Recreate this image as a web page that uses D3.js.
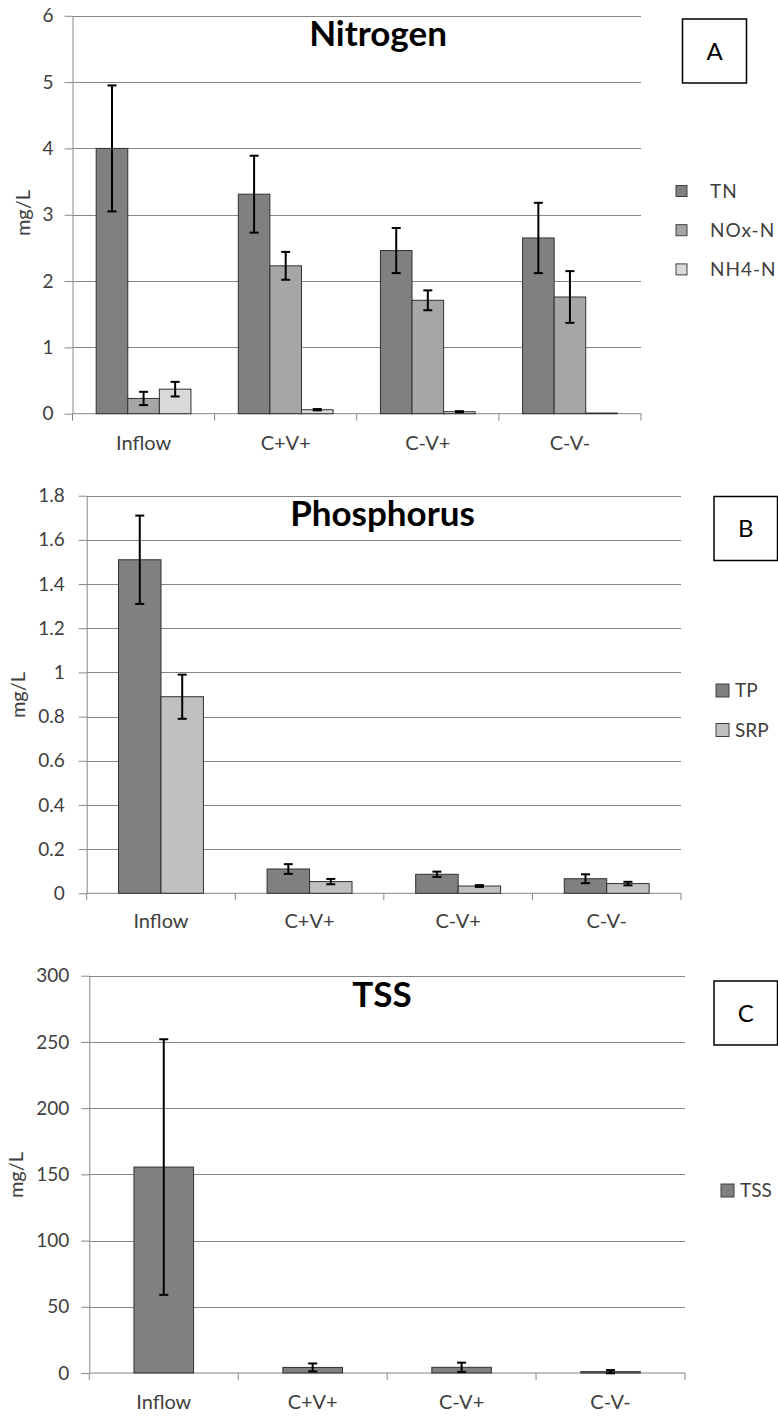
<!DOCTYPE html>
<html>
<head>
<meta charset="utf-8">
<script src="https://cdn.jsdelivr.net/npm/d3@7"></script>
<style>
  body { margin: 0; background: #fff; }
  svg text { font-family: Lato, 'Open Sans', sans-serif; }
</style>
</head>
<body>
<div id="graph"></div>
<script>
'use strict';

let categories = ['Inflow', 'C+V+', 'C-V+', 'C-V-'];

// panel A - nitrogen
let nitrogenSeries = ['TN', 'NOx-N', 'NH4-N'];
let tnMean = [4.0, 3.31, 2.46, 2.65];
let tnErr = [0.95, 0.58, 0.34, 0.53];
let noxMean = [0.23, 2.23, 1.71, 1.76];
let noxErr = [0.10, 0.21, 0.15, 0.39];
let nh4Mean = [0.37, 0.06, 0.03, 0.01];
let nh4Err = [0.11, 0.01, 0.008, 0.0];
let nitrogenTicks = [0, 1, 2, 3, 4, 5, 6];

// panel B - phosphorus
let phosphorusSeries = ['TP', 'SRP'];
let tpMean = [1.51, 0.11, 0.086, 0.066];
let tpErr = [0.20, 0.022, 0.012, 0.02];
let srpMean = [0.89, 0.053, 0.033, 0.044];
let srpErr = [0.10, 0.012, 0.004, 0.008];
let phosphorusTicks = [0, 0.2, 0.4, 0.6, 0.8, 1, 1.2, 1.4, 1.6, 1.8];

// panel C - TSS
let tssSeries = ['TSS'];
let tssMean = [155.5, 4.2, 4.3, 1.0];
let tssErr = [96.5, 3.0, 3.5, 1.2];
let tssTicks = [0, 50, 100, 150, 200, 250, 300];

let GRID = '#868686';
let TEXT = '#404040';
let FILLS = {
    'TN': '#808080', 'NOx-N': '#a6a6a6', 'NH4-N': '#d9d9d9',
    'TP': '#808080', 'SRP': '#c0c0c0',
    'TSS': '#808080',
};

let svg = d3.select('#graph')
    .append('svg')
    .attr('width', 778)
    .attr('height', 1416);

function drawPanel (p) {
    let g = svg.append('g');
    let yScale = d3.scaleLinear()
        .domain([0, d3.max(p.ticks)])
        .range([p.bottom, p.top]);
    let xScale = d3.scaleBand()
        .domain(categories)
        .range([p.left, p.right])
        .padding(0);

    // excel style gap width 150%
    let n = p.series.length;
    let barW = xScale.bandwidth() / (n + 1.5);
    let sScale = d3.scaleBand()
        .domain(p.series)
        .range([0, n * barW]);

    // gridlines
    g.selectAll('.grid')
        .data(p.ticks.filter(t => t > 0))
        .enter()
        .append('line')
        .attr('x1', p.left).attr('x2', p.right)
        .attr('y1', d => Math.round(yScale(d)) + 0.5)
        .attr('y2', d => Math.round(yScale(d)) + 0.5)
        .attr('stroke', GRID)
        .attr('stroke-width', 1);

    // y axis
    let yAxis = d3.axisLeft(yScale)
        .tickValues(p.ticks)
        .tickFormat(d => String(d))
        .tickSizeInner(8)
        .tickSizeOuter(0)
        .tickPadding(p.pad);
    let ya = g.append('g')
        .attr('transform', 'translate(' + p.left + ',0)')
        .call(yAxis);
    ya.selectAll('path, line').attr('stroke', GRID);
    ya.selectAll('text')
        .attr('fill', TEXT)
        .style('font-size', '19px')
        .style('font-family', "Lato, sans-serif");

    // x axis line + tick marks at band boundaries
    let bounds = categories.map(c => xScale(c)).concat([p.right]);
    g.append('line')
        .attr('x1', p.left).attr('x2', p.right)
        .attr('y1', p.bottom).attr('y2', p.bottom)
        .attr('stroke', GRID);
    g.selectAll('.xtick')
        .data(bounds)
        .enter()
        .append('line')
        .attr('x1', d => d).attr('x2', d => d)
        .attr('y1', p.bottom).attr('y2', p.bottom + 7)
        .attr('stroke', GRID);
    g.selectAll('.xlabel')
        .data(categories)
        .enter()
        .append('text')
        .attr('x', d => xScale(d) + xScale.bandwidth() / 2)
        .attr('y', p.bottom + p.xlab)
        .attr('text-anchor', 'middle')
        .attr('fill', TEXT)
        .style('font-size', '20px')
        .text(d => d);

    // bars
    let rows = [];
    p.series.forEach((s, si) => {
        categories.forEach((c, ci) => {
            rows.push({ cat: c, series: s, mean: p.means[si][ci], err: p.errs[si][ci] });
        });
    });

    let barX = d => xScale(d.cat) + 0.75 * barW + sScale(d.series);

    g.selectAll('.bar')
        .data(rows)
        .enter()
        .append('rect')
        .attr('x', barX)
        .attr('y', d => yScale(d.mean))
        .attr('width', barW)
        .attr('height', d => p.bottom - yScale(d.mean))
        .attr('fill', d => FILLS[d.series])
        .attr('stroke', '#303030')
        .attr('stroke-width', 1);

    // error bars
    let eb = g.selectAll('.err')
        .data(rows.filter(d => d.err > 0))
        .enter()
        .append('g')
        .attr('stroke', '#000')
        .attr('stroke-width', 2);
    let cx = d => barX(d) + barW / 2;
    eb.append('line')
        .attr('x1', cx).attr('x2', cx)
        .attr('y1', d => yScale(d.mean + d.err))
        .attr('y2', d => yScale(d.mean - d.err));
    eb.append('line')
        .attr('x1', d => cx(d) - 4.5).attr('x2', d => cx(d) + 4.5)
        .attr('y1', d => yScale(d.mean + d.err))
        .attr('y2', d => yScale(d.mean + d.err));
    eb.append('line')
        .attr('x1', d => cx(d) - 4.5).attr('x2', d => cx(d) + 4.5)
        .attr('y1', d => yScale(d.mean - d.err))
        .attr('y2', d => yScale(d.mean - d.err));

    // title
    g.append('text')
        .attr('x', p.titleX)
        .attr('y', p.titleY)
        .attr('text-anchor', 'middle')
        .attr('fill', '#000')
        .style('font-size', '35px')
        .style('font-weight', 'bold')
        .text(p.title);

    // y label
    g.append('text')
        .attr('transform', 'translate(' + p.yLabelX + ',' + p.yLabelY + ') rotate(-90)')
        .attr('text-anchor', 'middle')
        .attr('dy', '0.35em')
        .attr('fill', TEXT)
        .style('font-size', '20px')
        .text('mg/L');

    // letter box
    g.append('rect')
        .attr('x', p.box[0]).attr('y', p.box[1])
        .attr('width', p.box[2]).attr('height', p.box[3])
        .attr('fill', '#fff')
        .attr('stroke', '#000')
        .attr('stroke-width', 1.5);
    g.append('text')
        .attr('x', p.box[0] + p.box[2] / 2)
        .attr('y', p.box[1] + p.box[3] / 2)
        .attr('dy', '0.36em')
        .attr('text-anchor', 'middle')
        .attr('fill', '#000')
        .style('font-size', '24px')
        .text(p.letter);

    // legend
    let lg = g.selectAll('.legend')
        .data(p.series)
        .enter()
        .append('g')
        .attr('transform', (d, i) => 'translate(' + p.legX + ',' + (p.legY + i * p.legStep) + ')');
    lg.append('rect')
        .attr('x', 0).attr('y', -p.legSq / 2)
        .attr('width', p.legSq).attr('height', p.legSq)
        .attr('fill', d => FILLS[d])
        .attr('stroke', '#404040')
        .attr('stroke-width', 1);
    lg.append('text')
        .attr('x', p.legText)
        .attr('dy', '0.36em')
        .attr('fill', TEXT)
        .style('font-size', '19px')
        .style('letter-spacing', p.legSpacing)
        .text(d => d);
}

drawPanel({
    series: nitrogenSeries,
    means: [tnMean, noxMean, nh4Mean],
    errs: [tnErr, noxErr, nh4Err],
    ticks: nitrogenTicks,
    left: 72.5, right: 641, top: 15.8, bottom: 413.7, pad: 11, xlab: 36,
    title: 'Nitrogen', titleX: 378, titleY: 46,
    yLabelX: 23, yLabelY: 213,
    box: [682.5, 19, 64, 64], letter: 'A',
    legX: 676, legY: 191, legStep: 39.2, legSq: 11, legText: 34, legSpacing: '1px',
});

drawPanel({
    series: phosphorusSeries,
    means: [tpMean, srpMean],
    errs: [tpErr, srpErr],
    ticks: phosphorusTicks,
    left: 86.7, right: 681, top: 495.7, bottom: 893.3, pad: 14, xlab: 35,
    title: 'Phosphorus', titleX: 382.5, titleY: 526,
    yLabelX: 18, yLabelY: 695,
    box: [714, 496.5, 63.5, 64], letter: 'B',
    legX: 716, legY: 690.5, legStep: 39.5, legSq: 13, legText: 19, legSpacing: '0px',
});

drawPanel({
    series: tssSeries,
    means: [tssMean],
    errs: [tssErr],
    ticks: tssTicks,
    left: 89.3, right: 685, top: 975.7, bottom: 1373, pad: 12, xlab: 36,
    title: 'TSS', titleX: 382, titleY: 1007,
    yLabelX: 16, yLabelY: 1175,
    box: [714, 981, 63.5, 64], letter: 'C',
    legX: 721, legY: 1190.5, legStep: 39.5, legSq: 13, legText: 19, legSpacing: '0px',
});
</script>
</body>
</html>
